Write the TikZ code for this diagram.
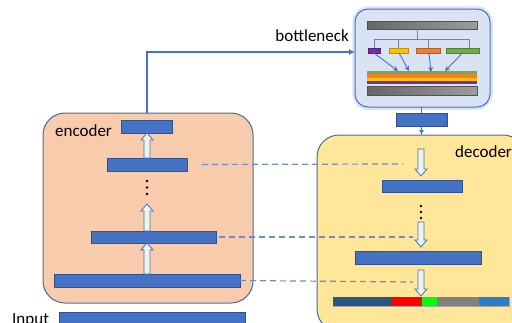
\documentclass[tikz,border=0pt]{standalone}
\usepackage{fontspec}
\setmainfont{Carlito}
\usetikzlibrary{calc,arrows.meta}

\definecolor{barblue}{HTML}{4472C4}
\definecolor{barline}{HTML}{2F528F}
\definecolor{boxline}{HTML}{41719C}
\definecolor{encfill}{HTML}{F8CBAD}
\definecolor{decfill}{HTML}{FFE699}
\definecolor{bnfill}{HTML}{DAE3F3}
\definecolor{bnglow}{HTML}{C9D8F0}
\definecolor{arrfill}{HTML}{EDF4E8}
\definecolor{dashblue}{HTML}{6A8DCC}
\definecolor{flowblue}{HTML}{4472C4}
\definecolor{greyA}{HTML}{666666}
\definecolor{greyB}{HTML}{9C9C9C}
\definecolor{cpurple}{HTML}{7030A0}
\definecolor{cyellow}{HTML}{FFC000}
\definecolor{corange}{HTML}{ED7D31}
\definecolor{cgreen}{HTML}{70AD47}
\definecolor{sdark}{HTML}{2A5780}
\definecolor{sred}{HTML}{FF0000}
\definecolor{sgreen}{HTML}{00FF00}
\definecolor{sgrey}{HTML}{808080}
\definecolor{sblue}{HTML}{2E7BC6}

% hollow block arrow along a vertical line, from tail #1 to tip #2
\newcommand\hollowarrow[2]{%
  \draw[hollow] let \p1=(#1), \p2=(#2), \p3=($(#2)!7pt!(#1)$) in
    (\x1-3pt,\y1) -- (\x1-3pt,\y3) -- (\x1-6pt,\y3) -- (\x1,\y2)
    -- (\x1+6pt,\y3) -- (\x1+3pt,\y3) -- (\x1+3pt,\y1) -- cycle;}

\begin{document}
\begin{tikzpicture}[x=1pt,y=-1pt,
  box/.style={draw=boxline, line width=1pt, rounded corners=22pt, inner sep=0pt, outer sep=0pt},
  bar/.style={draw=barline, fill=barblue, line width=0.6pt, inner sep=0pt, outer sep=0pt},
  greybar/.style={draw=greyA!80!black, line width=0.5pt, left color=greyA, right color=greyB, inner sep=0pt, outer sep=0pt},
  chip/.style={draw=#1!75!black, fill=#1, line width=0.4pt, inner sep=0pt, outer sep=0pt, minimum height=5pt},
  hollow/.style={draw=flowblue, fill=arrfill, line width=0.8pt, line join=miter},
  linkdash/.style={draw=dashblue, line width=1.2pt, dash pattern=on 6pt off 4pt},
  flow/.style={draw=flowblue, line width=1.2pt},
  tree/.style={draw=flowblue!85, line width=0.8pt},
  small/.style={draw=flowblue, line width=0.9pt, -{Stealth[length=5pt,width=5pt]}},
  lbl/.style={font=\fontsize{17}{20}\selectfont, inner sep=0pt},
  dot/.style={fill=black, circle, inner sep=0pt, minimum size=2.6pt}]

\useasboundingbox (0,0) rectangle (512,322);

% containers
\node[box, fill=encfill, minimum width=210pt, minimum height=190pt] (enc) at (148,208) {};
\node[box, fill=decfill, minimum width=208pt, minimum height=196pt] (dec) at (421,233) {};
\draw[bnglow, line width=2.5pt, opacity=0.7, rounded corners=15pt] (353.5,7.5) rectangle (491.5,108.5);
\node[box, fill=bnfill, draw=flowblue, rounded corners=13pt, minimum width=135pt, minimum height=98pt] (bn) at (422.5,58) {};

% labels
\node[lbl, anchor=west] (enclbl) at (55,131) {encoder};
\node[lbl, anchor=east] (bnlbl) at (349,36) {bottleneck};
\node[lbl, anchor=west] (declbl) at (455,152) {decoder};
\node[lbl, anchor=base west] (inlbl) at (12,324) {Input};

% encoder layers
\node[bar, minimum width=51pt, minimum height=13pt] (ebar1) at (147,126.5) {};
\node[bar, minimum width=80pt, minimum height=13pt] (ebar2) at (147,164.5) {};
\node[bar, minimum width=125pt, minimum height=12pt] (ebar3) at (153.5,237) {};
\node[bar, minimum width=186pt, minimum height=13pt] (ebar4) at (147,280.5) {};
\node[bar, minimum width=186pt, minimum height=20pt] (inbar) at (152,322) {};

\node[dot] (ed1) at (147,181) {};
\node[dot] (ed2) at (147,187.5) {};
\node[dot] (ed3) at (147,194) {};
\coordinate (edots) at (147,204);

\hollowarrow{ebar2.north}{ebar1.south}
\hollowarrow{ebar3.north -| edots}{edots}
\hollowarrow{ebar4.north}{ebar3.south}

% decoder layers
\coordinate (dtop) at (421,149);
\node[bar, minimum width=80pt, minimum height=12pt] (dbar1) at (422,186) {};
\node[dot] (dd1) at (421,206) {};
\node[dot] (dd2) at (421,212) {};
\node[dot] (dd3) at (421,218) {};
\coordinate (ddots) at (421,222);
\node[bar, minimum width=126pt, minimum height=13pt] (dbar2) at (418,257.5) {};

% output strip
\node[draw=sgrey!70, line width=0.5pt, inner sep=0pt, outer sep=0pt, minimum width=176pt, minimum height=9pt] (strip) at (421,301.5) {};
\fill[sdark] (333,297) rectangle (391,306);
\fill[sred] (391,297) rectangle (422,306);
\fill[sgreen] (422,297) rectangle (437,306);
\fill[sgrey] (437,297) rectangle (479,306);
\fill[sblue] (479,297) rectangle (509,306);

\hollowarrow{dtop}{$(dbar1.north)+(0,-4)$}
\hollowarrow{ddots}{$(dbar2.north -| ddots)+(0,-4)$}
\hollowarrow{$(dbar2.south -| ddots)+(0,6)$}{$(strip.north -| ddots)+(0,-1)$}

% skip links
\coordinate (dl1) at (403,164);
\coordinate (dl2) at (413,237);
\coordinate (dl3) at (413,282);
\draw[linkdash, shorten <=15pt] (ebar2.east) -- (dl1);
\draw[linkdash, shorten <=3pt] (ebar3.east) -- (dl2);
\draw[linkdash] (ebar4.east) -- (dl3);

% bottleneck internals
\node[greybar, minimum width=110pt, minimum height=8pt] (gtop) at (422,25) {};
\node[chip=cpurple, minimum width=12pt] (sp) at (374,50.5) {};
\node[chip=cyellow, minimum width=19pt] (sy) at (398.5,50.5) {};
\node[chip=corange, minimum width=24pt] (so) at (428,50.5) {};
\node[chip=cgreen, minimum width=33pt] (sg) at (462.5,50.5) {};
\coordinate (tj) at (417,39);
\draw[tree] (gtop.south -| tj) -- (tj);
\draw[tree] (sp.north) |- (tj);
\draw[tree] ([xshift=6.5pt]sg.north) |- (tj);
\draw[tree] (sy.north) -- (sy.north |- tj);
\draw[tree] (so.north) -- (so.north |- tj);

\node[inner sep=0pt, outer sep=0pt, minimum width=110pt, minimum height=13pt] (stack) at (422,77.5) {};
\fill[cgreen] (367,71) rectangle (477,74);
\fill[corange] (367,74) rectangle (477,77.5);
\fill[cyellow] (367,77.5) rectangle (477,81);
\fill[cpurple] (367,81) rectangle (477,84);
\node[greybar, minimum width=110pt, minimum height=9pt] (gbot) at (422,90.5) {};

\draw[small] (sp.south) -- ($(stack.north west)+(31,0)$);
\draw[small] ([xshift=0.5pt]sy.south) -- ($(stack.north west)+(42,0)$);
\draw[small] ([xshift=1pt]so.south) -- ($(stack.north west)+(64,1)$);
\draw[small] (sg.south) -- ($(stack.north west)+(78,0)$);

% data flow between blocks
\coordinate (bnin) at (355,52);
\node[bar, minimum width=51pt, minimum height=13pt] (sbox) at (421.5,119.5) {};
\draw[flow, -{Latex[length=6pt,width=6pt]}] (enc.north -| ebar1.north) |- (bnin);
\draw[flow] (bn.south -| sbox.north) -- (sbox.north);
\draw[flow, -{Latex[length=5pt,width=5pt]}] (sbox.south) -- (sbox.south |- dec.north);

\end{tikzpicture}
\end{document}
